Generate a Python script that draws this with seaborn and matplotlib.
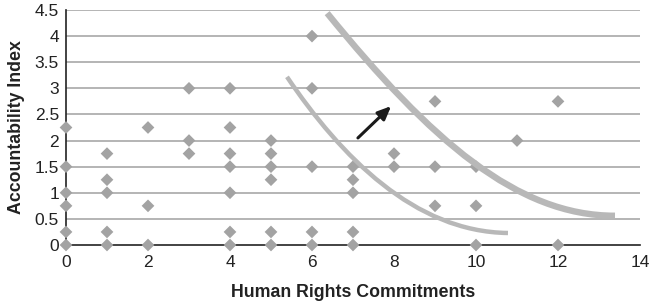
import matplotlib
matplotlib.use("Agg")
import matplotlib.pyplot as plt
from matplotlib.path import Path
from matplotlib.patches import PathPatch
import seaborn as sns
import pandas as pd

# Data: Human Rights Commitments (x) vs Accountability Index (y)
commitments = [0, 0, 0, 0, 0, 0,
               1, 1, 1, 1, 1,
               2, 2, 2,
               3, 3, 3,
               4, 4, 4, 4, 4, 4, 4,
               5, 5, 5, 5, 5, 5,
               6, 6, 6, 6, 6,
               7, 7, 7, 7, 7,
               8, 8,
               9, 9, 9,
               10, 10, 10,
               11,
               12, 12]
accountability = [0, 0.25, 0.75, 1, 1.5, 2.25,
                  0, 0.25, 1, 1.25, 1.75,
                  0, 0.75, 2.25,
                  1.75, 2, 3,
                  0, 0.25, 1, 1.5, 1.75, 2.25, 3,
                  0, 0.25, 1.25, 1.5, 1.75, 2,
                  0, 0.25, 1.5, 3, 4,
                  0, 0.25, 1, 1.25, 1.5,
                  1.5, 1.75,
                  0.75, 1.5, 2.75,
                  0, 0.75, 1.5,
                  2,
                  0, 2.75]

x_ticks = [0, 2, 4, 6, 8, 10, 12, 14]
y_ticks = [0, 0.5, 1, 1.5, 2, 2.5, 3, 3.5, 4, 4.5]

# Annotation curves (cubic Bezier control points, data coords)
inner_curve = [(5.39, 3.22), (6.7, 1.7), (8.5, 0.25), (10.78, 0.23)]
outer_curve = [(6.37, 4.44), (8.9, 2.0), (11.0, 0.56), (13.39, 0.56)]
arrow_tail = (7.12, 2.05)
arrow_head = (7.93, 2.66)

df = pd.DataFrame({"x": commitments, "y": accountability})

sns.set_style("white")
plt.rcParams["font.family"] = ["Liberation Sans", "DejaVu Sans"]

fig = plt.figure(figsize=(6.5, 3.03), dpi=100)
ax = fig.add_axes([66 / 650, 1 - 245 / 303, (640 - 66) / 650, (245 - 10) / 303])

ax.set_xlim(0, 14)
ax.set_ylim(0, 4.5)
ax.set_yticks(y_ticks)
ax.set_yticklabels([("%g" % v) for v in y_ticks])
ax.set_xticks(x_ticks)
ax.set_xticklabels([str(v) for v in x_ticks])

for v in y_ticks[1:]:
    ax.axhline(v, color="#a8a8a8", lw=1.2, zorder=0)

sns.scatterplot(data=df, x="x", y="y", marker="D", s=42, color="#a3a3a3",
                edgecolor="none", ax=ax, clip_on=False, zorder=3)

for pts, lw in ((inner_curve, 3.2), (outer_curve, 4.6)):
    path = Path(pts, [Path.MOVETO, Path.CURVE4, Path.CURVE4, Path.CURVE4])
    ax.add_patch(PathPatch(path, facecolor="none", edgecolor="#b8b8b8",
                           lw=lw, capstyle="butt", zorder=4))

ax.annotate("", xy=arrow_head, xytext=arrow_tail,
            arrowprops=dict(arrowstyle="-|>,head_length=0.8,head_width=0.35",
                            color="#1a1a1a", lw=2.2, shrinkA=0, shrinkB=0),
            zorder=5)

for side in ("top", "right"):
    ax.spines[side].set_visible(False)
ax.spines["left"].set_color("#222222")
ax.spines["bottom"].set_color("#222222")
ax.spines["left"].set_linewidth(1.2)
ax.spines["bottom"].set_linewidth(1.2)

ax.tick_params(axis="both", length=0, labelsize=12.5, colors="#222222", pad=5)
ax.tick_params(axis="x", pad=7)

ax.set_xlabel("Human Rights Commitments", fontsize=12.8, fontweight="bold",
              color="#222222", labelpad=10)
ax.set_ylabel("Accountability Index", fontsize=12.8, fontweight="bold",
              color="#222222", labelpad=7)

fig.savefig("out.png", dpi=100, facecolor="white")
